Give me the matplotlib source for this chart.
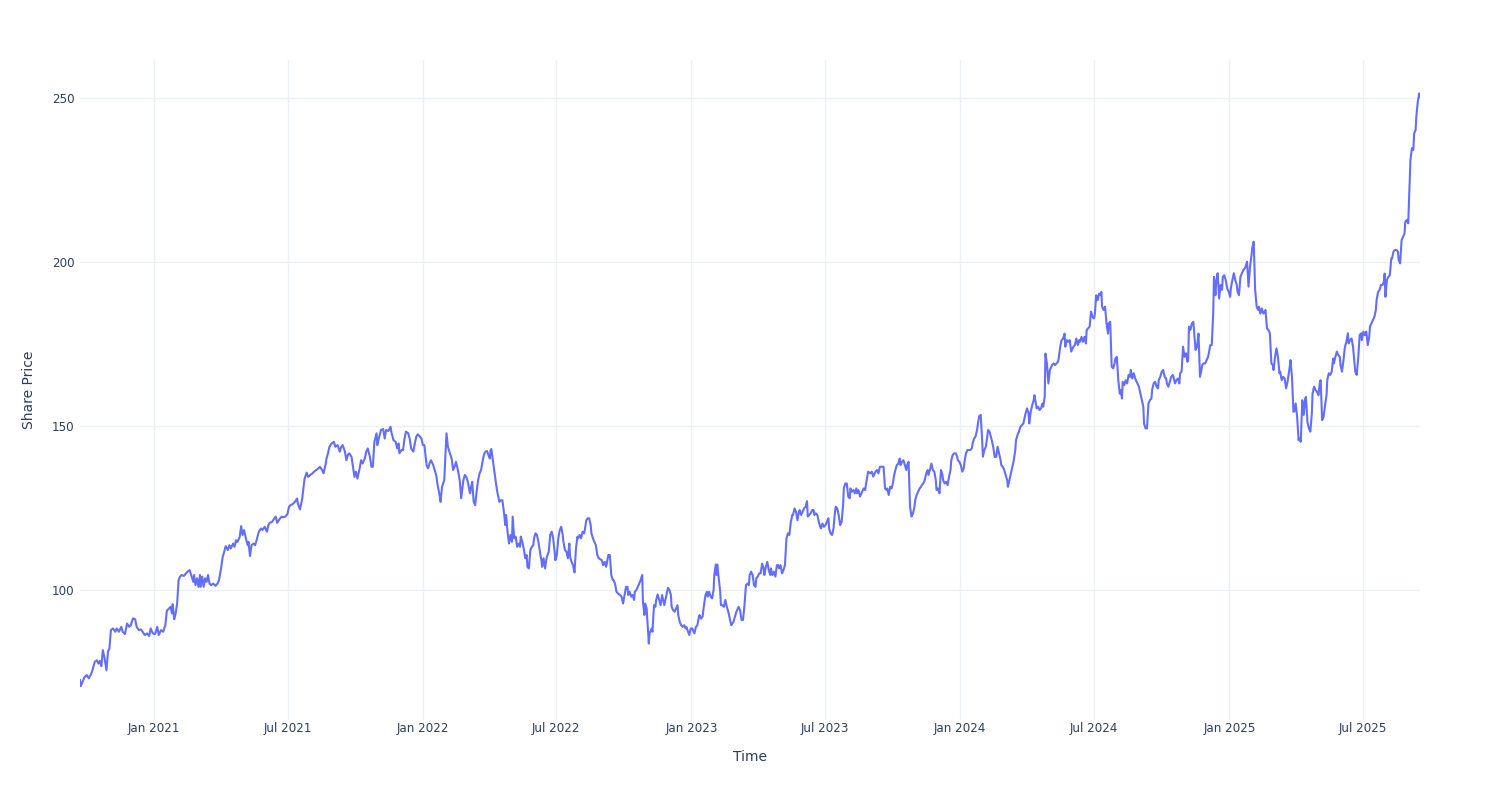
import matplotlib
matplotlib.use("Agg")
import matplotlib.pyplot as plt
import matplotlib.dates as mdates
import numpy as np
import pandas as pd

# ---- data ----
start_date = "2021-01-01"   # day offsets are relative to this date
days = [
    -101, -100, -95, -92, -89, -86, -84, -81, -78, -76, -74, -72, -70, -68, -65, -63, -61, -59, -56, -53,
    -51, -48, -45, -43, -40, -37, -34, -32, -29, -26, -24, -21, -18, -15, -13, -10, -7, -5, -2, 1,
    4, 6, 9, 12, 15, 17, 20, 22, 24, 25, 27, 29, 31, 33, 35, 37, 40, 43, 45, 48,
    50, 53, 54, 56, 58, 60, 62, 63, 65, 67, 69, 71, 73, 75,
    77, 80, 83, 86, 88, 91, 93, 95, 97, 100, 102, 104, 107, 109, 111, 113, 116, 118, 120, 122,
    125, 127, 128, 130, 132, 135, 137, 139, 142, 145, 147, 150, 153, 155, 157, 160, 163, 165, 167, 170,
    173, 175, 178, 181, 183, 185, 188, 191, 194, 195, 198, 201, 204, 205, 207, 209, 212, 215, 217, 220,
    223, 225, 228, 230, 233, 234, 236, 238, 241, 244, 246, 249,
    252, 254, 256, 259, 261, 263, 265, 268, 270, 272, 274, 276, 279, 281, 283, 286, 288, 290, 293, 295,
    297, 299, 302, 303, 305, 308, 311, 313, 315, 318, 321, 322, 325, 328, 330, 332, 333, 336, 338, 340,
    342, 345, 347, 349, 352, 354, 356, 358, 361, 363, 365, 367, 370, 372, 374, 376, 379, 381, 383, 385,
    388, 389, 391, 394, 396, 397, 399, 401, 404, 406, 408, 410, 413, 415, 417, 420, 422, 424, 426,
    429, 431, 432, 434, 436, 438, 440, 442, 444, 446, 448, 450, 452, 454, 456, 457, 458, 460, 462, 464,
    466, 467, 469, 471, 473, 475, 477, 478, 480, 482, 484, 486, 487, 489, 491, 493, 495, 497, 498, 500,
    502, 504, 506, 507, 509, 511, 513, 515, 516, 518, 520, 522, 524, 526, 527, 529, 531, 533, 535, 536,
    538, 540, 542, 544, 545, 547, 549, 551, 553, 555, 556, 558, 560, 562, 564, 565, 567, 569, 571, 573,
    575, 576, 578, 580, 582, 584, 585, 587, 589, 591, 593, 594, 596, 598, 600, 602, 604,
    608, 610, 612, 614, 617, 619, 621, 623, 624, 626, 628, 630, 633, 635, 637, 639, 641, 643, 644, 646,
    648, 650, 652, 653, 655, 657, 659, 661, 663, 664, 666, 667, 669, 671, 672, 673, 676, 677, 679, 681,
    682, 684, 686, 688, 690, 692, 693, 695, 698, 700, 702, 703, 705, 707, 709, 711, 712, 714, 716, 718,
    720, 722, 723, 725, 727, 729, 731, 732, 734, 736, 738, 740, 741, 743, 745, 747, 749, 751, 752, 754,
    756, 758, 760, 761, 763, 764, 765, 767, 769, 770, 772, 774, 776, 778, 780,
    782, 784, 787, 789, 791, 794, 796, 798, 800, 802, 804, 806, 808, 809, 811, 813, 815, 817, 818, 820,
    822, 824, 826, 828, 829, 831, 833, 835, 837, 838, 840, 842, 844, 846, 848, 849, 851, 853, 855, 857,
    859, 861, 863, 865, 867, 868, 870, 872, 874, 876, 877, 879, 881, 883, 885, 887, 888, 890, 892, 894,
    896, 897, 899, 901, 903, 905, 906, 908, 910, 912, 914, 916, 917, 919, 921, 923, 925, 926, 928, 930,
    932, 934, 936, 937, 939, 941, 943, 945, 946, 948, 950, 952, 954, 955, 957,
    959, 961, 964, 966, 968, 970, 973, 975, 977, 980, 982, 984, 986, 989, 991, 993, 995, 996, 998, 1000,
    1002, 1004, 1005, 1007, 1009, 1011, 1013, 1014, 1016, 1018, 1020, 1022, 1023, 1025, 1027, 1029, 1031, 1033, 1034, 1036,
    1038, 1040, 1042, 1043, 1045, 1047, 1049, 1051, 1052, 1054, 1056, 1058, 1060, 1062, 1063, 1065, 1067, 1069, 1071, 1072,
    1074, 1076, 1078, 1080, 1082, 1083, 1085, 1087, 1089, 1091, 1092, 1094, 1096, 1098, 1100, 1101, 1103, 1105, 1107, 1109,
    1111, 1112, 1114, 1116, 1118, 1120, 1121, 1123, 1125, 1126, 1128, 1130, 1131, 1133, 1135,
    1138, 1140, 1142, 1144, 1146, 1148, 1150, 1151, 1153, 1155, 1157, 1159, 1160, 1162, 1164, 1166, 1168, 1170, 1171, 1173,
    1175, 1177, 1179, 1181,
    1184, 1186, 1188, 1189, 1191, 1193, 1195, 1196, 1198, 1199, 1201, 1203, 1205, 1207, 1208, 1210, 1211, 1213, 1215, 1217,
    1218, 1220, 1222, 1224, 1226, 1228, 1229, 1231, 1233, 1235, 1237, 1238, 1240, 1242, 1244, 1246, 1247, 1249, 1251, 1253,
    1255, 1257, 1258, 1260, 1262, 1264, 1266, 1267, 1269, 1271, 1273, 1275, 1277, 1278, 1280, 1282, 1284, 1286, 1287, 1288,
    1290, 1292, 1294, 1296, 1297, 1299, 1301, 1303, 1305, 1306, 1308, 1310, 1312,
    1313, 1315, 1316, 1318, 1320, 1322, 1324, 1326, 1327, 1329, 1331, 1333, 1335, 1336, 1338, 1340, 1342, 1344, 1345, 1347,
    1349, 1351, 1353, 1355, 1356, 1358, 1360, 1362, 1364, 1365, 1367, 1369, 1371, 1373, 1375, 1376, 1378, 1380, 1382, 1384,
    1385, 1387, 1389, 1391, 1393, 1394, 1396, 1398, 1400, 1402, 1404, 1405, 1406, 1408, 1410, 1412, 1413, 1415, 1417, 1419,
    1421, 1423, 1424, 1426, 1428, 1430, 1432, 1433, 1435, 1437, 1439, 1440, 1442, 1443, 1445, 1447, 1449, 1451, 1452, 1454,
    1456, 1458, 1460, 1462, 1463, 1465, 1467, 1469, 1471, 1472, 1474, 1476, 1478, 1480, 1482, 1483, 1485, 1487, 1489, 1491,
    1492, 1494,
    1496, 1498, 1500, 1501, 1503, 1505, 1507, 1509, 1510, 1512, 1514, 1516, 1518, 1520, 1521, 1523, 1525, 1527, 1529, 1530,
    1532, 1534, 1536, 1538, 1540, 1541, 1543, 1544, 1546, 1548, 1549, 1551, 1553, 1555, 1556, 1558, 1560, 1562, 1564, 1565,
    1567, 1569, 1571, 1573, 1574, 1576, 1578, 1580, 1582, 1584, 1585, 1587, 1589, 1591, 1593, 1594, 1596, 1598, 1600, 1602,
    1603, 1605, 1607, 1609, 1611, 1612, 1614, 1616, 1618, 1620, 1622, 1623, 1625, 1627, 1629, 1631, 1632, 1634, 1636, 1638,
    1640, 1641, 1643, 1645, 1647, 1649, 1651, 1652, 1654, 1656, 1658, 1660, 1661, 1663, 1665, 1667, 1669, 1671, 1672, 1673,
    1675, 1677, 1679, 1681, 1682, 1684, 1686, 1688, 1690, 1691, 1693, 1695, 1697, 1699, 1700, 1702, 1704, 1706, 1707, 1709,
    1711, 1712, 1714, 1715, 1717, 1719, 1720,
]
prices = [
    72.6, 70.7, 73.4, 74.1, 73.1, 74.4, 75.6, 78.1, 78.6, 77.6, 78.4, 76.8, 81.7, 79.7, 75.6, 81.2, 82.2, 87.8, 88.3, 87.3,
    88.3, 87.3, 88.8, 87.3, 86.6, 89.8, 88.8, 89.3, 91.4, 91.1, 88.8, 87.8, 88.0, 87.0, 86.3, 86.8, 86.0, 88.3, 86.8, 86.6,
    88.8, 86.3, 87.8, 87.3, 89.3, 93.7, 94.4, 94.9, 92.9, 95.7, 91.1, 92.9, 95.9, 103.1, 104.1, 104.6, 104.3, 105.1, 105.6, 106.1,
    104.6, 102.5, 104.6, 101.5, 103.6, 101.0, 104.6, 101.0, 104.1, 101.0, 103.6, 102.5, 104.6, 102.0,
    101.5, 102.0, 101.3, 102.0, 103.1, 107.1, 110.2, 111.7, 113.4, 112.2, 113.7, 112.7, 114.2, 113.2, 115.2, 114.7, 116.2, 119.5, 116.8, 118.3,
    115.2, 113.7, 114.7, 110.4, 113.7, 114.2, 113.7, 115.2, 117.8, 118.8, 118.3, 119.3, 117.8, 119.8, 120.5, 120.8, 121.8, 122.4, 120.5, 121.6,
    122.4, 122.2, 122.4, 123.2, 125.4, 125.9, 126.2, 126.9, 127.9, 126.4, 124.6, 127.9, 133.7, 134.5, 135.8, 134.5, 135.1, 135.6, 136.1, 136.6,
    137.1, 137.6, 136.6, 135.6, 138.6, 140.1, 141.7, 143.7, 144.7, 145.2, 143.7, 144.2,
    142.2, 143.7, 144.2, 142.2, 139.6, 141.2, 141.7, 140.6, 137.6, 134.5, 136.1, 134.0, 137.1, 139.6, 138.6, 140.1, 142.2, 143.2, 140.6, 137.6,
    137.6, 145.2, 147.8, 144.2, 146.2, 148.8, 149.1, 146.2, 148.8, 148.5, 149.8, 148.3, 145.7, 145.2, 143.2, 144.7, 141.7, 142.7, 142.7, 146.2,
    148.3, 147.8, 146.2, 143.2, 142.2, 144.7, 146.8, 147.5, 146.8, 146.2, 144.2, 144.2, 138.1, 137.1, 138.6, 139.6, 138.1, 136.6, 135.1, 132.0,
    128.5, 126.9, 131.5, 133.5, 143.2, 147.8, 143.7, 142.2, 140.1, 136.6, 137.6, 139.1, 136.1, 133.5, 128.0, 133.5, 135.1, 134.5, 133.0,
    129.5, 132.0, 133.0, 126.9, 125.9, 130.0, 133.5, 135.6, 136.6, 139.1, 141.4, 142.2, 142.4, 141.2, 140.1, 142.7, 143.0, 139.6, 136.1, 133.0,
    130.0, 129.0, 126.9, 127.4, 127.4, 123.9, 119.8, 122.9, 117.8, 114.2, 116.8, 114.7, 122.4, 115.8, 116.3, 113.2, 114.2, 113.2, 116.3, 114.7,
    112.7, 109.7, 110.7, 107.1, 106.6, 112.2, 113.2, 113.7, 115.8, 117.3, 116.8, 114.7, 111.7, 109.1, 107.1, 109.7, 106.6, 109.7, 111.2, 111.7,
    116.8, 117.8, 115.8, 111.7, 109.1, 110.7, 115.8, 118.3, 119.3, 116.8, 114.7, 112.2, 111.7, 109.7, 114.2, 110.2, 108.6, 107.6, 105.4, 112.7,
    116.3, 115.8, 116.8, 115.8, 117.8, 117.3, 118.3, 121.3, 121.9, 121.9, 119.8, 117.3, 115.8, 114.7, 113.7, 110.7, 109.7,
    109.1, 107.6, 108.6, 107.1, 110.7, 110.7, 104.6, 103.1, 103.1, 102.0, 99.5, 99.0, 98.5, 98.0, 95.9, 98.5, 101.0, 101.0, 98.5, 99.5,
    98.0, 98.5, 97.0, 99.5, 100.0, 101.0, 102.0, 103.1, 104.6, 96.4, 92.4, 95.9, 94.4, 87.3, 83.7, 86.8, 88.3, 87.3, 95.4, 94.9,
    97.0, 98.7, 97.0, 95.4, 98.5, 96.4, 95.4, 97.5, 100.7, 100.0, 98.5, 94.9, 93.9, 93.4, 94.4, 95.4, 92.4, 90.3, 89.3, 88.8,
    89.3, 88.3, 88.8, 87.5, 86.3, 88.3, 88.3, 87.8, 86.8, 88.8, 89.3, 91.9, 92.4, 91.3, 91.9, 95.4, 98.5, 99.5, 98.0, 99.5,
    98.0, 97.5, 100.0, 104.6, 107.8, 104.6, 107.8, 103.6, 99.5, 95.4, 95.4, 94.9, 97.0, 94.9, 93.4,
    91.4, 89.3, 90.3, 91.9, 93.4, 94.9, 93.9, 90.9, 90.9, 95.4, 101.5, 102.0, 101.5, 104.6, 105.6, 104.6, 101.5, 101.0, 103.6, 104.1,
    105.1, 105.1, 108.1, 106.6, 104.6, 107.1, 108.6, 106.1, 104.6, 106.6, 104.6, 105.6, 104.1, 107.6, 107.6, 106.6, 107.6, 105.1, 106.1, 107.6,
    115.7, 117.3, 116.8, 120.8, 122.9, 122.9, 124.9, 123.9, 121.3, 123.9, 124.4, 122.9, 123.9, 124.9, 125.4, 127.1, 122.4, 122.9, 123.4, 124.4,
    124.4, 122.9, 123.4, 122.9, 120.8, 119.3, 118.8, 120.3, 119.3, 119.8, 120.8, 121.9, 118.8, 117.3, 116.8, 118.8, 123.9, 125.4, 124.9, 122.9,
    119.8, 120.8, 125.9, 131.0, 132.5, 132.5, 128.5, 128.0, 131.0, 130.0, 130.5, 129.5, 131.0, 129.5, 130.5,
    128.5, 129.5, 131.0, 130.5, 133.5, 136.1, 135.6, 136.1, 134.6, 136.1, 136.6, 135.6, 137.6, 137.6, 137.6, 131.0, 130.5, 131.0, 129.0, 131.5,
    131.0, 133.0, 134.6, 136.6, 138.1, 138.6, 140.1, 138.1, 139.1, 139.6, 138.1, 136.6, 138.1, 139.1, 125.4, 122.4, 123.4, 125.4, 127.4, 129.0,
    130.0, 131.0, 131.5, 132.0, 132.5, 133.5, 135.6, 136.6, 135.1, 136.6, 138.6, 136.6, 136.1, 133.5, 130.5, 131.0, 129.5, 136.6, 135.1, 133.5,
    132.5, 133.0, 132.0, 134.6, 136.6, 139.6, 141.2, 141.7, 141.7, 140.7, 139.6, 139.1, 138.1, 136.1, 137.1, 139.1, 141.7, 142.7, 142.7, 142.7,
    143.2, 144.7, 146.2, 146.8, 148.8, 151.8, 153.0, 153.4, 145.7, 140.7, 142.7, 143.7, 145.2, 148.8, 148.3,
    145.7, 143.7, 140.6, 140.6, 143.7, 141.7, 139.6, 138.1, 137.6, 136.6, 135.1, 133.5, 131.5, 133.5, 135.6, 137.6, 139.6, 142.7, 145.7, 147.3,
    148.3, 149.8, 150.3, 150.8,
    153.9, 155.4, 153.9, 150.8, 154.4, 156.4, 157.9, 159.4, 156.9, 155.4, 155.9, 154.9, 155.4, 156.9, 155.9, 158.9, 172.1, 169.1, 163.0, 167.1,
    167.6, 168.6, 169.1, 168.6, 169.1, 169.6, 170.6, 174.2, 176.2, 176.7, 178.2, 174.2, 176.2, 175.7, 176.2, 172.7, 173.2, 174.2, 174.7, 176.7,
    174.7, 176.2, 175.7, 177.2, 175.7, 177.2, 175.2, 179.3, 179.8, 180.3, 184.9, 183.3, 182.8, 183.8, 189.9, 188.4, 190.4, 189.9, 190.9, 186.4,
    185.4, 186.4, 181.3, 178.2, 181.3, 181.8, 168.1, 167.6, 169.1, 170.6, 171.1, 164.0, 159.9,
    161.0, 158.4, 163.5, 162.5, 164.0, 163.0, 165.6, 165.0, 167.1, 164.5, 166.1, 164.5, 163.5, 163.0, 162.0, 160.0, 157.9, 155.9, 150.8, 149.3,
    149.3, 156.9, 157.9, 158.4, 161.0, 163.0, 163.5, 162.0, 161.5, 164.0, 165.0, 166.6, 167.1, 165.0, 164.5, 163.0, 162.0, 163.5, 165.0, 165.6,
    165.0, 163.0, 164.0, 164.5, 163.0, 166.1, 166.6, 174.2, 171.1, 172.2, 169.6, 170.6, 180.3, 179.3, 181.3, 181.8, 178.8, 173.2, 174.2, 178.2,
    165.0, 167.1, 168.6, 169.1, 169.1, 170.1, 171.1, 172.2, 174.7, 174.7, 184.4, 195.5, 189.9, 194.0, 196.6, 188.9, 193.0, 191.5, 195.5, 196.0,
    194.5, 192.0, 191.0, 189.4, 192.0, 194.5, 196.6, 194.5, 193.0, 191.0, 189.9, 195.5, 196.6, 197.6, 198.1, 198.6, 200.1, 192.5, 198.6, 202.1,
    204.2, 206.2,
    191.5, 186.4, 185.4, 186.4, 184.3, 185.9, 184.3, 184.9, 185.4, 179.8, 179.3, 178.3, 169.1, 168.6, 167.1, 171.1, 173.7, 171.1, 166.1, 166.6,
    164.0, 165.0, 164.5, 161.5, 163.5, 165.0, 168.1, 170.1, 165.0, 154.4, 154.4, 156.9, 152.9, 145.7, 146.2, 145.2, 157.9, 153.4, 158.4, 158.9,
    151.3, 149.3, 148.3, 153.9, 159.9, 162.0, 161.0, 160.5, 159.4, 163.5, 164.0, 151.8, 152.9, 156.4, 159.4, 164.0, 166.1, 165.6, 166.6, 170.6,
    169.1, 171.1, 172.7, 171.6, 171.1, 168.6, 166.6, 170.1, 174.2, 175.7, 178.3, 175.2, 176.2, 176.7, 174.2, 169.1, 166.6, 165.6, 170.6, 177.7,
    178.3, 176.2, 178.8, 177.7, 178.8, 174.7, 177.2, 180.3, 181.3, 182.3, 183.3, 185.4, 188.4, 190.9, 191.5, 193.0, 193.0, 194.0, 196.5, 189.4,
    194.5, 195.5, 196.0, 201.1, 201.1, 203.2, 203.7, 203.7, 203.2, 200.6, 199.6, 206.7, 207.7, 208.7, 212.3, 212.8, 211.8, 225.0, 231.1, 234.7,
    234.2, 239.2, 240.2, 244.3, 248.9, 251.4, 250.4,
]
x_title = "Time"
y_title = "Share Price"
y_ticks = [100, 150, 200, 250]
x_tick_dates = ["2021-01-01", "2021-07-01", "2022-01-01", "2022-07-01", "2023-01-01",
                "2023-07-01", "2024-01-01", "2024-07-01", "2025-01-01", "2025-07-01"]

# ---- build ----
dates = pd.Timestamp(start_date) + pd.to_timedelta(days, unit="D")

plt.rcParams["font.family"] = ["DejaVu Sans"]
TEXT = "#2a3f5f"
GRID = "#ebf0f8"
LINE = "#636efa"

fig = plt.figure(figsize=(15, 8), dpi=100)
ax = fig.add_axes([80 / 1500, 80 / 800, 1340 / 1500, 660 / 800])

ax.plot(dates, prices, color=LINE, linewidth=1.5, solid_joinstyle="round", zorder=3)

ax.set_xlim(dates[0], dates[-1])
ax.set_ylim(60.4, 261.6)

ax.set_yticks(y_ticks)
ax.set_yticklabels([str(v) for v in y_ticks])
xt = pd.to_datetime(x_tick_dates)
ax.set_xticks(xt)
ax.set_xticklabels([d.strftime("%b %Y") for d in xt])

ax.grid(True, color=GRID, linewidth=1, zorder=0)
ax.set_axisbelow(True)
for s in ax.spines.values():
    s.set_visible(False)
ax.tick_params(axis="both", length=0, labelsize=8.6, labelcolor=TEXT)
ax.tick_params(axis="x", pad=1.2)
ax.tick_params(axis="y", pad=4)

ax.set_xlabel(x_title, fontsize=10, color=TEXT, labelpad=11)
ax.set_ylabel(y_title, fontsize=10, color=TEXT, labelpad=11.5)

fig.savefig("out.png", dpi=100, facecolor="white")
